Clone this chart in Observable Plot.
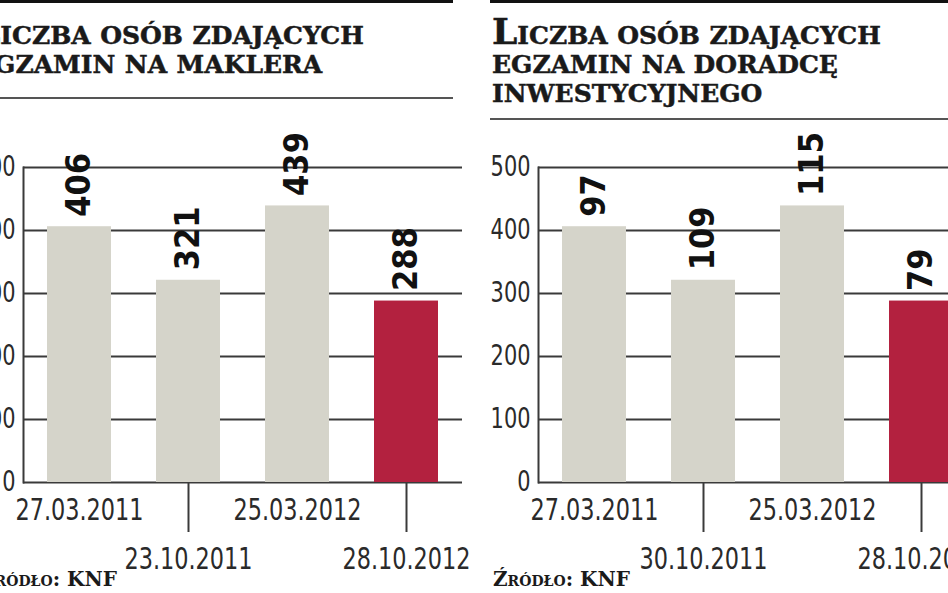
<!DOCTYPE html>
<html>
<head>
<meta charset="utf-8">
<script src="https://cdn.jsdelivr.net/npm/d3@7"></script>
<script src="https://cdn.jsdelivr.net/npm/@observablehq/plot@0.6"></script>
<style>
  html, body { margin: 0; padding: 0; background: #fff; }
  body { width: 948px; height: 593px; position: relative; overflow: hidden; }
  .topbar { position: absolute; top: 0; height: 3px; background: #111; }
  .rule { position: absolute; height: 2px; background: #555; }
  .title { position: absolute; font-family: "DejaVu Serif", serif; font-weight: bold; font-variant: small-caps;
           font-size: 36px; line-height: 29px; color: #1a1a1a; white-space: nowrap; word-spacing: -3px;
           -webkit-text-stroke: 0.5px #1a1a1a; }
  .source { position: absolute; font-family: "DejaVu Serif", serif; font-variant: small-caps; font-weight: bold;
            font-size: 20px; line-height: 20px; color: #1a1a1a; white-space: nowrap; }
  .chart { position: absolute; top: 125px; }
</style>
</head>
<body>
<div id="root"></div>
<script>
// ---- data ----
const dates1 = ["27.03.2011", "23.10.2011", "25.03.2012", "28.10.2012"];
const values1 = [406, 321, 439, 288];
const dates2 = ["27.03.2011", "30.10.2011", "25.03.2012", "28.10.2012"];
const values2 = [97, 109, 115, 79];
// bar heights as drawn in the right panel (the original reuses the left panel's bars)
const heights2 = [406, 321, 439, 288];
const yTicks = [0, 100, 200, 300, 400, 500];
const title1 = ["Liczba osób zdających", "egzamin na maklera"];
const title2 = ["Liczba osób zdających", "egzamin na doradcę", "inwestycyjnego"];
const sourceText = "Źródło: KNF";

const GRAY = "#d5d4ca", RED = "#b3213f";
const NUM = "'DejaVu Sans Condensed', 'DejaVu Sans', sans-serif";
const BOLDNUM = "'DejaVu Sans Condensed', 'DejaVu Sans', sans-serif";

function chart(dates, heights, labels) {
  const data = dates.map((d, i) => ({date: d, h: heights[i], label: String(labels[i]), last: i === dates.length - 1}));
  const svg = Plot.plot({
    width: 500, height: 468,
    marginLeft: 60, marginRight: 1, marginTop: 42, marginBottom: 111,
    style: {background: "transparent", overflow: "visible"},
    x: {domain: dates, paddingInner: 0.41, paddingOuter: 0.205, axis: null, label: null},
    y: {domain: [0, 500], axis: null, label: null},
    marks: [
      Plot.ruleY(yTicks, {stroke: "#3a3a3a", strokeWidth: 2}),
      Plot.barY(data, {x: "date", y: "h", fill: d => d.last ? RED : GRAY}),
      Plot.frame({anchor: "left", stroke: "#3a3a3a", strokeWidth: 2}),
      Plot.axisY({ticks: yTicks, tickSize: 0, tickPadding: 8, fontSize: 28, label: null,
                  fontFamily: NUM, fill: "#2a2a2a"}),
      Plot.axisX({ticks: [dates[0], dates[2]], tickSize: 0, tickPadding: 16, fontSize: 30, label: null,
                  fontFamily: NUM, fill: "#2a2a2a"}),
      Plot.axisX({ticks: [dates[1], dates[3]], tickSize: 50, tickPadding: 15, fontSize: 30, label: null,
                  fontFamily: NUM, fill: "#2a2a2a", stroke: "#3a3a3a", strokeWidth: 2}),
      Plot.text(data, {x: "date", y: "h", text: "label", rotate: -90, textAnchor: "start",
                       lineAnchor: "middle", dy: -10, fontSize: 34, fontWeight: "bold",
                       fontFamily: BOLDNUM, fill: "#111"})
    ]
  });
  // narrow the axis numerals horizontally (condensed look)
  svg.querySelectorAll('g[aria-label$="tick label"] text').forEach(t => {
    const tr = t.getAttribute("transform") || "";
    t.setAttribute("transform", tr + " scale(0.83,1)");
  });
  return svg;
}

const root = document.getElementById("root");
function add(cls, styles, html) {
  const el = document.createElement("div");
  el.className = cls;
  Object.assign(el.style, styles);
  if (html != null) el.innerHTML = html;
  root.appendChild(el);
  return el;
}

// left panel
add("topbar", {left: "0px", width: "453px"});
add("title", {left: "-25px", top: "17px"}, title1.join("<br>"));
add("rule", {left: "0px", width: "453px", top: "97px"});
const c1 = chart(dates1, values1, values1);
c1.classList.add("chart"); c1.style.left = "-37px"; root.appendChild(c1);
add("source", {left: "-20px", top: "569px"}, sourceText);

// right panel
add("topbar", {left: "490px", width: "458px"});
add("title", {left: "492px", top: "17px"}, title2.join("<br>"));
add("rule", {left: "490px", width: "458px", top: "118px"});
const c2 = chart(dates2, heights2, values2);
c2.classList.add("chart"); c2.style.left = "478px"; root.appendChild(c2);
add("source", {left: "493px", top: "569px"}, sourceText);
</script>
</body>
</html>
